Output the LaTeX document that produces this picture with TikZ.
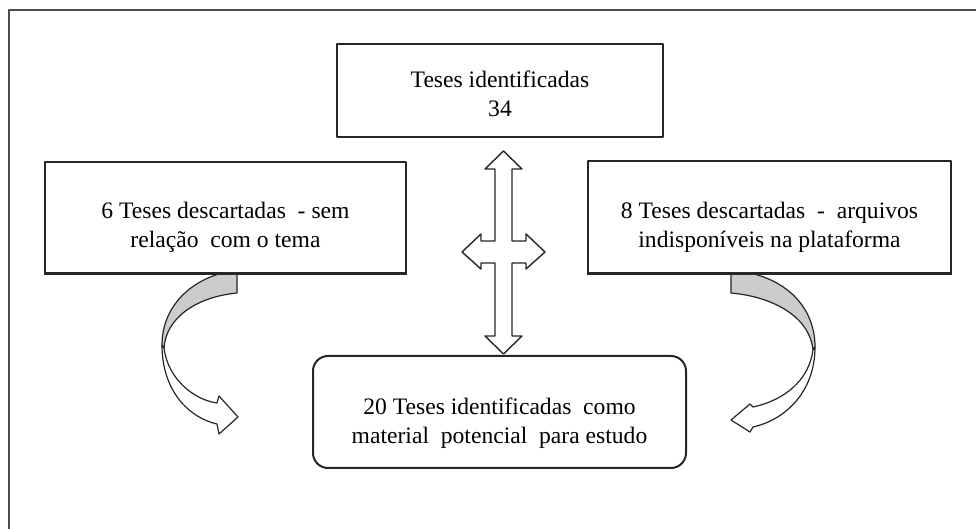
\documentclass[tikz,border=0pt]{standalone}
\usepackage{fontspec}
\setmainfont{Liberation Serif}
\usetikzlibrary{fit}

\begin{document}
\begin{tikzpicture}[x=0.5pt,y=-0.5pt,line join=round]
	% `box' is used for the square boxes, `result' for the rounded one.
	% `ribbon' and `twist' are used for the curved arrows.
	\tikzstyle{box} = [draw=black!85,line width=1pt,inner sep=0pt]
	\tikzstyle{result} = [box,rounded corners=7.5pt]
	\tikzstyle{txt} = [align=center,font=\fontsize{11.8}{14.6}\selectfont]
	\tikzstyle{cross} = [draw=black!85,fill=white,line width=0.7pt]
	\tikzstyle{ribbon} = [draw=black!85,fill=white,line width=0.6pt]
	\tikzstyle{twist} = [ribbon,fill=black!20]
	\useasboundingbox (0,0) rectangle (976,529);
	% Frame.
	\draw[black!70,line width=1.3pt] (976,10) -- (9,10) -- (9,529);
	%
	% Corners of the boxes.
	\coordinate (found1) at (337,44);  \coordinate (found2) at (663,137);
	\coordinate (theme1) at (45,162);  \coordinate (theme2) at (406,273);
	\coordinate (files1) at (588,161); \coordinate (files2) at (951,273);
	\coordinate (study1) at (313,356); \coordinate (study2) at (686,468);
	% Boxes.
	\node[box,fit=(found1)(found2)] (found) {};
	\node[box,fit=(theme1)(theme2)] (theme) {};
	\node[box,fit=(files1)(files2)] (files) {};
	\node[result,fit=(study1)(study2)] (study) {};
	% Texts of the boxes.
	\node[txt,yshift=-1.5pt] (foundtxt) at (found) {Teses identificadas\\34};
	\node[txt,yshift=-5pt] (themetxt) at (theme) {6 Teses descartadas~ - sem\\relação~ com o tema};
	\node[txt,yshift=-5pt] (filestxt) at (files) {8 Teses descartadas~ -~ arquivos\\indisponíveis na plataforma};
	\node[txt,yshift=-5.5pt] (studytxt) at (study) {20 Teses identificadas~ como\\material~ potencial~ para estudo};
	%
	% Four-way arrow between the boxes.
	\draw[cross] (503.5,151) -- (522,169) -- (512,169) -- (512,241) -- (526,241) -- (526,234)
		-- (545,252) -- (526,269) -- (526,263) -- (512,263) -- (512,336) -- (522,336)
		-- (503.5,354) -- (485,336) -- (495,336) -- (495,263) -- (481,263) -- (481,269)
		-- (462,252) -- (481,234) -- (481,241) -- (495,241) -- (495,169) -- (485,169) -- cycle;
	%
	% Left curved arrow.
	\draw[ribbon] (162,345) .. controls (162,392) and (190,418) .. (217,424) -- (219,434)
		-- (238,417) -- (219,396) -- (217,403) .. controls (195,400) and (168,380) .. (164,348) -- cycle;
	\draw[twist] (222,273) -- (237,273) -- (237,293) .. controls (196,297) and (166,318) .. (164,348)
		-- (162,345) .. controls (162,310) and (186,283) .. (222,273) -- cycle;
	% Right curved arrow.
	\draw[ribbon] (815,347) .. controls (815,392) and (785,420) .. (753,427) -- (750,432)
		-- (731,420) -- (750,404) -- (753,407) .. controls (785,400) and (809,380) .. (813,350) -- cycle;
	\draw[twist] (750,273) -- (731,273) -- (731,293) .. controls (775,297) and (810,318) .. (813,350)
		-- (815,347) .. controls (815,310) and (790,282) .. (750,273) -- cycle;
	% Redraw box edges over the arrow ends.
	\draw[black!85,line width=1pt] (theme.south west) -- (theme.south east);
	\draw[black!85,line width=1pt] (files.south west) -- (files.south east);
\end{tikzpicture}
\end{document}
